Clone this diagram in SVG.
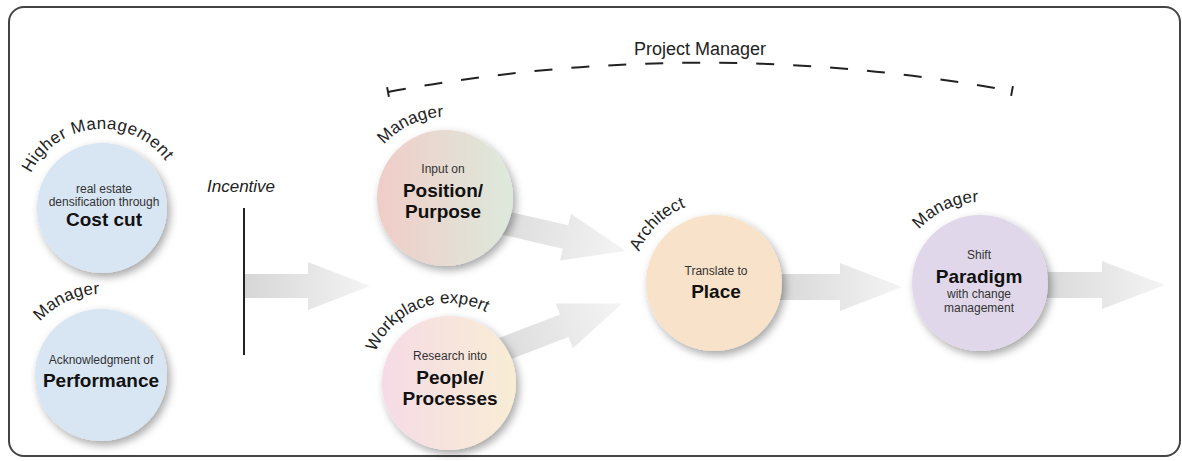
<svg xmlns="http://www.w3.org/2000/svg" width="1182" height="461" viewBox="0 0 1182 461">
<style>
.lbl{font-family:"Liberation Sans",Arial,sans-serif;font-size:17px;fill:#222}
.sm{font-family:"Liberation Sans",Arial,sans-serif;font-size:12px;fill:#333;text-anchor:middle}
.bd{font-family:"Liberation Sans",Arial,sans-serif;font-size:19px;font-weight:bold;fill:#111;text-anchor:middle}
.arrow{fill:url(#ag)}
</style>
<defs>
<filter id="sh" x="-30%" y="-30%" width="160%" height="160%">
<feDropShadow dx="3" dy="4" stdDeviation="4" flood-color="#000" flood-opacity="0.35"/>
</filter>
<linearGradient id="ag" x1="0" y1="0" x2="1" y2="0">
<stop offset="0" stop-color="#d6d6d6"/>
<stop offset="1" stop-color="#f4f4f4"/>
</linearGradient>
<linearGradient id="gPos" x1="0" y1="0" x2="1" y2="0">
<stop offset="0" stop-color="#f0cdc7"/>
<stop offset="1" stop-color="#dde9dc"/>
</linearGradient>
<linearGradient id="gPeo" x1="0" y1="0" x2="1" y2="0">
<stop offset="0" stop-color="#f6dbe6"/>
<stop offset="1" stop-color="#f8edd4"/>
</linearGradient>
<marker id="tbar" viewBox="-2 -6 4 12" markerWidth="4" markerHeight="12" refX="0" refY="0" orient="auto" markerUnits="userSpaceOnUse">
<line x1="0" y1="-5" x2="0" y2="5" stroke="#222" stroke-width="2"/>
</marker>
<path id="a1" d="M27.8,235 A79,79 0 1 1 176.2,235"/>
<path id="a2" d="M24.9,402.7 A81,81 0 1 1 177.1,402.7"/>
<path id="a3" d="M368.9,225.7 A81,81 0 1 1 521.1,225.7"/>
<path id="a4" d="M373.8,410.4 A80,80 0 1 1 524.2,410.4"/>
<path id="a5" d="M637.9,310.7 A81,81 0 1 1 790.1,310.7"/>
<path id="a6" d="M903.9,310.7 A81,81 0 1 1 1056.1,310.7"/>
</defs>

<rect x="9" y="7" width="1171" height="449" rx="15" ry="15" fill="#fff" stroke="#444" stroke-width="2"/>

<g id="connectors">
<path class="arrow" transform="translate(244,286)" d="M0,-12 L64,-12 L64,-24 L126,0 L64,24 L64,12 L0,12 Z"/>
<path class="arrow" transform="translate(470,215) rotate(13)" d="M0,-12 L98,-12 L98,-24 L160,0 L98,24 L98,12 L0,12 Z"/>
<path class="arrow" transform="translate(470,362) rotate(-21)" d="M0,-12 L101,-12 L101,-24 L163,0 L101,24 L101,12 L0,12 Z"/>
<path class="arrow" transform="translate(770,287)" d="M0,-13 L70,-13 L70,-24 L132,0 L70,24 L70,13 L0,13 Z"/>
<path class="arrow" transform="translate(1030,285)" d="M0,-13 L72,-13 L72,-24 L135,0 L72,24 L72,13 L0,13 Z"/>
<line x1="244" y1="208" x2="244" y2="355" stroke="#222" stroke-width="2"/>
<path d="M388,92 Q700,34 1012,91" fill="none" stroke="#222" stroke-width="2" stroke-dasharray="18 19" marker-start="url(#tbar)" marker-end="url(#tbar)"/>
</g>

<g id="incentive">
<text x="207" y="192" font-family="Liberation Sans,Arial,sans-serif" font-size="17" font-style="italic" fill="#222">Incentive</text>
</g>
<g id="project-manager">
<text x="700" y="55" font-family="Liberation Sans,Arial,sans-serif" font-size="18" fill="#222" text-anchor="middle">Project Manager</text>
</g>

<g id="cost-cut">
<circle cx="102" cy="208" r="65" fill="#d8e5f3" filter="url(#sh)"/>
<text class="lbl" letter-spacing="0.5"><textPath href="#a1" startOffset="47.7%" text-anchor="middle">Higher Management</textPath></text>
<text class="sm" x="104" y="193">real estate</text>
<text class="sm" x="104" y="206">densification through</text>
<text class="bd" x="104" y="226">Cost cut</text>
</g>

<g id="performance">
<circle cx="101" cy="375" r="66" fill="#d8e5f3" filter="url(#sh)"/>
<text class="lbl"><textPath href="#a2" startOffset="38.6%" text-anchor="middle">Manager</textPath></text>
<text class="sm" x="101" y="364">Acknowledgment of</text>
<text class="bd" x="101" y="387">Performance</text>
</g>

<g id="position-purpose">
<circle cx="445" cy="198" r="68" fill="url(#gPos)" filter="url(#sh)"/>
<text class="lbl"><textPath href="#a3" startOffset="38.6%" text-anchor="middle">Manager</textPath></text>
<text class="sm" x="443" y="173">Input on</text>
<text class="bd" x="443" y="197">Position/</text>
<text class="bd" x="443" y="218">Purpose</text>
</g>

<g id="people-processes">
<circle cx="449" cy="383" r="67" fill="url(#gPeo)" filter="url(#sh)"/>
<text class="lbl"><textPath href="#a4" startOffset="41%" text-anchor="middle">Workplace expert</textPath></text>
<text class="sm" x="450" y="360">Research into</text>
<text class="bd" x="450" y="384">People/</text>
<text class="bd" x="450" y="405">Processes</text>
</g>

<g id="place">
<circle cx="714" cy="283" r="68" fill="#f8e2c9" filter="url(#sh)"/>
<text class="lbl"><textPath href="#a5" startOffset="30%" text-anchor="middle">Architect</textPath></text>
<text class="sm" x="716" y="275">Translate to</text>
<text class="bd" x="716" y="298">Place</text>
</g>

<g id="paradigm">
<circle cx="980" cy="283" r="68" fill="#e0d8ea" filter="url(#sh)"/>
<text class="lbl"><textPath href="#a6" startOffset="38.6%" text-anchor="middle">Manager</textPath></text>
<text class="sm" x="979" y="259">Shift</text>
<text class="bd" x="979" y="283">Paradigm</text>
<text class="sm" x="979" y="298">with change</text>
<text class="sm" x="979" y="312">management</text>
</g>
</svg>
